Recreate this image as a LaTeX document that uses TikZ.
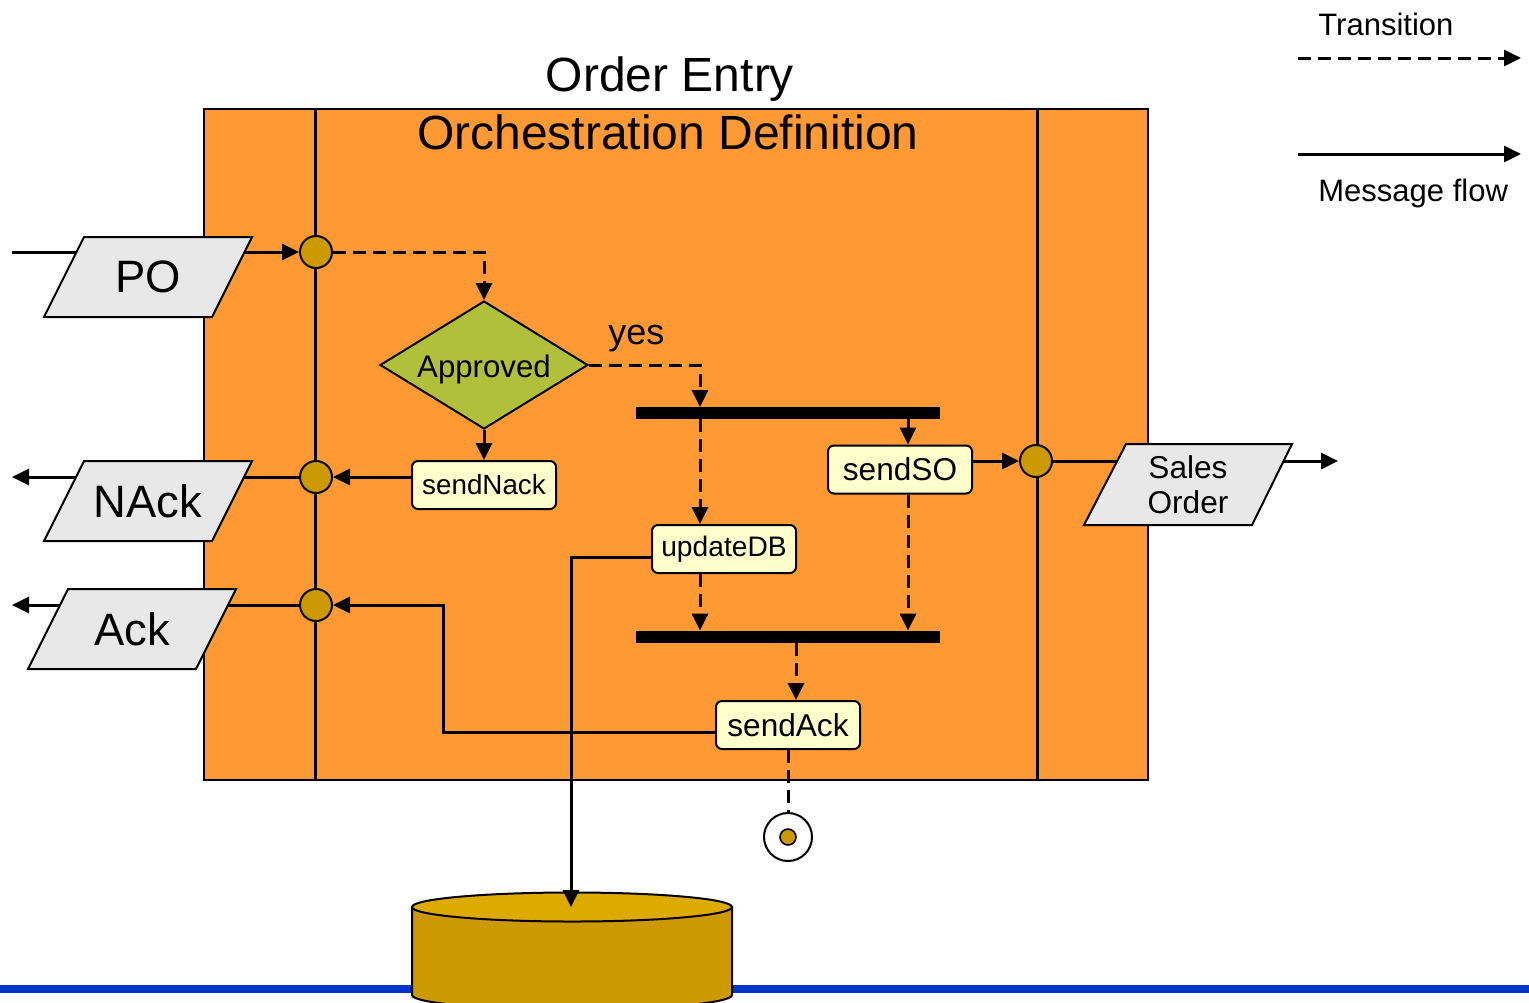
\documentclass[tikz,border=0pt]{standalone}
\usepackage{fontspec}
\setmainfont{Liberation Sans}
\usetikzlibrary{shapes.geometric,arrows.meta}
\definecolor{orng}{HTML}{FF9933}
\definecolor{grn}{HTML}{B0C03A}
\definecolor{gold}{HTML}{CC9900}
\definecolor{goldtop}{HTML}{DDAA00}
\definecolor{cream}{HTML}{FFFFCC}
\definecolor{iogray}{HTML}{E8E8E8}
\definecolor{blu}{HTML}{0033CC}
\begin{document}
\begin{tikzpicture}[x=0.5pt,y=-0.5pt,
  tip/.style={-{Triangle[length=8.5pt,width=8pt]}},
  msg/.style={tip, line width=1.5pt},
  trans/.style={tip, line width=1.5pt, dash pattern=on 6.5pt off 3.5pt},
  plaintrans/.style={line width=1.5pt, dash pattern=on 6.5pt off 3.5pt},
  act/.style={draw, line width=1pt, fill=cream, rounded corners=3pt, minimum width=72pt, minimum height=24pt, inner sep=0pt, font=\fontsize{15.8}{18}\selectfont},
  port/.style={circle, draw, line width=1pt, fill=gold, minimum size=16pt, inner sep=0pt},
  bar/.style={fill=black, minimum width=152pt, minimum height=6pt, inner sep=0pt},
  io/.style={draw, line width=1pt, fill=iogray},
  iotext/.style={inner sep=0pt, font=\fontsize{22.7}{26}\selectfont},
  legtext/.style={inner sep=0pt, anchor=base west, font=\fontsize{15.5}{18}\selectfont},
  title/.style={inner sep=0pt, anchor=base, font=\fontsize{24}{28}\selectfont}
]
\clip (0,0) rectangle (1529,1002);
\fill[white] (0,0) rectangle (1529,1002);
% orchestration frame
\draw[fill=orng, line width=1pt] (204,109) rectangle (1148,780);
\draw[line width=1.5pt] (315,109) -- (315,780);
\draw[line width=1.5pt] (1037,109) -- (1037,780);
\node[title] (t1) at (670,91) {Order Entry};
\node[title] (t2) at (668,149) {Orchestration Definition};
% blue line and database
\draw[line width=4pt, blu] (0,989) -- (1529,989);
\draw[line width=1pt, fill=gold] (412,907) -- (412,995) arc[start angle=180, end angle=360, x radius=80pt, y radius=7.25pt] -- (732,907) -- cycle;
\draw[line width=1pt, fill=goldtop] (572,907) ellipse [x radius=80pt, y radius=7.25pt];
% nodes
\node[port] (c1) at (316,252) {};
\node[port] (c2) at (316,477) {};
\node[port] (c3) at (316,605) {};
\node[port] (c4) at (1036,461) {};
\node[diamond, aspect=1.625, draw, line width=1pt, fill=grn, minimum width=104pt, minimum height=64pt, inner sep=0pt] (appr) at (484,365) {};
\node[inner sep=0pt, anchor=base, font=\fontsize{15.6}{18}\selectfont] (apprtxt) at (484,377) {Approved};
\node[act, font=\fontsize{13.9}{16}\selectfont] (snack) at (484,485) {sendNack};
\node[act, font=\fontsize{14.1}{16}\selectfont] (upd) at (724,549) {updateDB};
\node[act] (sso) at (900,469.5) {sendSO};
\node[act] (sack) at (788,725) {sendAck};
\node[bar] (bar1) at (788,413) {};
\node[bar] (bar2) at (788,637) {};
\node[circle, draw, line width=1pt, fill=white, minimum size=24pt, inner sep=0pt] (endo) at (788,837) {};
\node[circle, draw, line width=0.8pt, fill=gold, minimum size=8pt, inner sep=0pt] (endi) at (788,837) {};
\node[inner sep=0pt, anchor=base west, font=\fontsize{18}{20}\selectfont] (yes) at (608,344) {yes};
% coordinates
\coordinate (poin) at (12,252);
\coordinate (nackout) at (12,477);
\coordinate (ackout) at (12,605);
\coordinate (soout) at (1338,461);
\coordinate (y1) at (700,407);
\coordinate (f1) at (700,419);
\coordinate (f2) at (908,419);
\coordinate (f4) at (796,643);
\coordinate (a1) at (443,732);
\coordinate (d1) at (571,557);
\coordinate (dbtop) at (571,907);
\coordinate (lt1) at (1298,58);
\coordinate (lt2) at (1521,58);
\coordinate (lm1) at (1298,154);
\coordinate (lm2) at (1521,154);
% transitions
\draw[trans] (c1) -| (appr);
\draw[trans] (appr) -- (snack);
\draw[trans] (appr.east) -| (y1);
\draw[trans] (f1) -- (f1 |- upd.north);
\draw[trans] (f2) -- (f2 |- sso.north);
\draw[trans] (f1 |- upd.south) -- (f1 |- bar2.north);
\draw[trans] (f2 |- sso.south) -- (f2 |- bar2.north);
\draw[trans] (f4) -- (f4 |- sack.north);
\draw[plaintrans] (sack) -- (endo);
% message flows
\draw[msg] (poin) -- (c1);
\draw[msg] (snack.west |- c2) -- (c2);
\draw[msg] (c2) -- (nackout);
\draw[msg] (sack.west |- a1) -- (a1) |- (c3);
\draw[msg] (c3) -- (ackout);
\draw[msg] (upd.west |- d1) -- (d1) -- (dbtop);
\draw[msg] (sso.east |- c4) -- (c4);
\draw[msg] (c4) -- (soout);
% legend
\draw[trans] (lt1) -- (lt2);
\draw[msg] (lm1) -- (lm2);
\node[legtext] (lgt) at (1318,35) {Transition};
\node[legtext] (lgm) at (1318,201) {Message flow};
% input / output parallelograms
\draw[io] (84,237) -- (252,237) -- (212,317) -- (44,317) -- cycle;
\node[iotext] (po) at (148,277) {PO};
\draw[io] (84,461) -- (252,461) -- (212,541) -- (44,541) -- cycle;
\node[iotext] (nack) at (148,501) {NAck};
\draw[io] (68,589) -- (236,589) -- (196,669) -- (28,669) -- cycle;
\node[iotext] (ack) at (132,629) {Ack};
\draw[io] (1126,444) -- (1292,444) -- (1252,525) -- (1084,525) -- cycle;
\node[align=center, inner sep=0pt, font=\fontsize{15.8}{17.5}\selectfont] (so) at (1188,485) {Sales\\Order};
\end{tikzpicture}
\end{document}
